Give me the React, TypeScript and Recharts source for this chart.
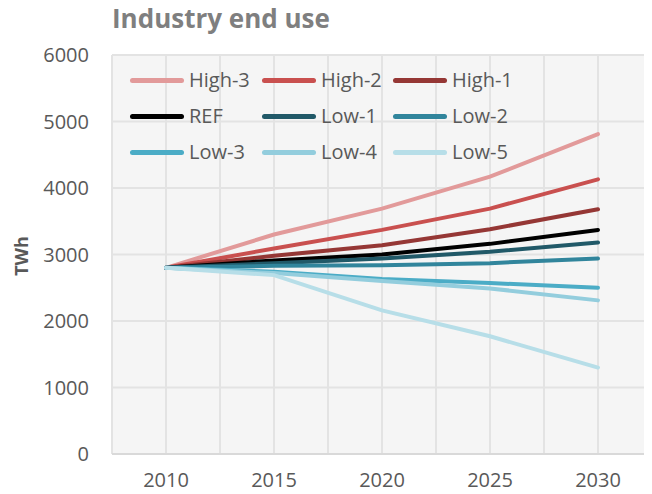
import React from "react";
import {
  LineChart,
  Line,
  XAxis,
  YAxis,
  CartesianGrid,
  Legend,
  ReferenceLine,
  Label,
} from "recharts";

const years = [2010, 2015, 2020, 2025, 2030];
const high3 = [2800, 3300, 3690, 4170, 4810];
const high2 = [2800, 3090, 3370, 3690, 4130];
const high1 = [2800, 2980, 3140, 3380, 3680];
const ref = [2800, 2910, 3000, 3160, 3370];
const low1 = [2800, 2870, 2940, 3040, 3180];
const low2 = [2800, 2830, 2840, 2870, 2940];
const low3 = [2800, 2740, 2630, 2570, 2500];
const low4 = [2800, 2720, 2600, 2490, 2310];
const low5 = [2800, 2690, 2160, 1770, 1300];

const yTicks = [0, 1000, 2000, 3000, 4000, 5000, 6000];
const minorGridYears = [2007.5, 2012.5, 2017.5, 2022.5, 2027.5];

const series = [
  { name: "High-3", values: high3, color: "#e29a9a" },
  { name: "High-2", values: high2, color: "#c9504f" },
  { name: "High-1", values: high1, color: "#953735" },
  { name: "REF", values: ref, color: "#000000" },
  { name: "Low-1", values: low1, color: "#215968" },
  { name: "Low-2", values: low2, color: "#31859c" },
  { name: "Low-3", values: low3, color: "#4bacc6" },
  { name: "Low-4", values: low4, color: "#93cddd" },
  { name: "Low-5", values: low5, color: "#b7dee8" },
];

const data = years.map((y, i) => {
  const row: Record<string, number> = { year: y };
  series.forEach((s) => {
    row[s.name] = s.values[i];
  });
  return row;
});

const FONT = "'Open Sans', sans-serif";
const TEXT = "#595959";

const renderLegend = () => (
  <div
    style={{
      display: "grid",
      gridTemplateColumns: "132px 131px 131px",
      fontFamily: FONT,
      fontSize: 20,
      color: TEXT,
      textAlign: "left",
    }}
  >
    {series.map((s) => (
      <div
        key={s.name}
        style={{ display: "flex", alignItems: "center", height: 36, lineHeight: "36px" }}
      >
        <span
          style={{
            display: "inline-block",
            width: 54,
            height: 5,
            borderRadius: 3,
            background: s.color,
            marginRight: 5,
          }}
        />
        <span>{s.name}</span>
      </div>
    ))}
  </div>
);

export default function App() {
  return (
    <div style={{ position: "relative", width: 644, height: 486, fontFamily: FONT }}>
      <div
        style={{
          position: "absolute",
          left: 104,
          top: -3,
          fontSize: 26,
          lineHeight: "26px",
          fontWeight: 700,
          color: "#7f7f7f",
          whiteSpace: "nowrap",
          zIndex: 2,
        }}
      >
        Industry end use
      </div>
      <LineChart
        width={644}
        height={486}
        data={data}
        margin={{ top: 47, right: 0, left: 0, bottom: 0 }}
      >
        <CartesianGrid
          stroke="#e3e3e3"
          strokeWidth={2}
          fill="#f5f5f5"
          vertical={true}
          horizontal={true}
        />
        {minorGridYears.map((x) => (
          <ReferenceLine key={x} x={x} stroke="#e3e3e3" strokeWidth={2} ifOverflow="visible" />
        ))}
        <XAxis
          dataKey="year"
          type="number"
          domain={[2007.5, 2032.5]}
          ticks={years}
          height={40}
          tickLine={false}
          tickSize={0}
          tickMargin={19}
          axisLine={{ stroke: "#d9d9d9", strokeWidth: 2 }}
          tick={{ fill: TEXT, fontSize: 20, fontFamily: FONT }}
        />
        <YAxis
          domain={[0, 6000]}
          ticks={yTicks}
          width={104}
          tickLine={false}
          axisLine={false}
          tickSize={0}
          tickMargin={23}
          tick={{ fill: TEXT, fontSize: 20, fontFamily: FONT }}
        >
          <Label
            content={() => (
              <text
                x={13}
                y={248}
                transform="rotate(-90 13 248)"
                textAnchor="middle"
                dominantBaseline="central"
                fill={TEXT}
                fontSize={18}
                fontWeight={700}
                fontFamily={FONT}
              >
                TWh
              </text>
            )}
          />
        </YAxis>
        <Legend
          layout="horizontal"
          verticalAlign="middle"
          align="center"
          wrapperStyle={{ top: 54, left: 122, width: 400, margin: 0 }}
          content={renderLegend}
        />
        {series.map((s) => (
          <Line
            key={s.name}
            type="linear"
            dataKey={s.name}
            stroke={s.color}
            strokeWidth={4}
            strokeLinecap="round"
            dot={false}
            activeDot={false}
            isAnimationActive={false}
          />
        ))}
      </LineChart>
    </div>
  );
}
